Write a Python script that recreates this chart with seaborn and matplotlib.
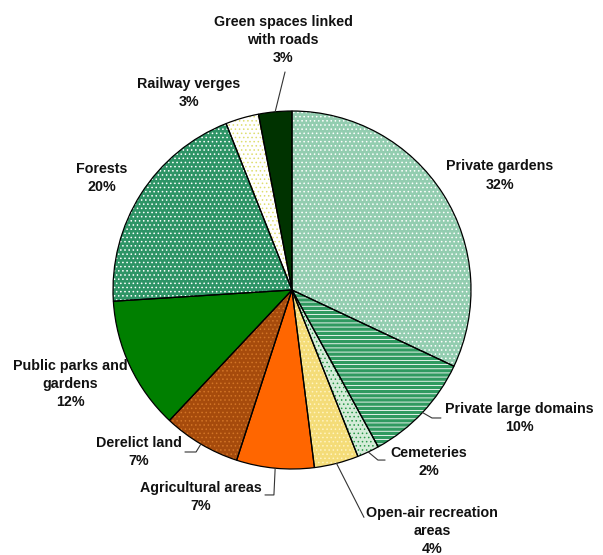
import numpy as np
import matplotlib
matplotlib.use("Agg")
import matplotlib.pyplot as plt
import seaborn as sns

# ---- data ----
categories = [
    "Private gardens",
    "Private large domains",
    "Cemeteries",
    "Open-air recreation\nareas",
    "Agricultural areas",
    "Derelict land",
    "Public parks and\ngardens",
    "Forests",
    "Railway verges",
    "Green spaces linked\nwith roads",
]
shares = [32, 10, 2, 4, 7, 7, 12, 20, 3, 3]

# ---- styling ----
face_colors = ["#93cdb0", "#2f9a60", "#d5ecd9", "#f4dc78", "#ff6600",
               "#a64b0c", "#007f00", "#2e9466", "#ffffff", "#003300"]
hatch_colors = ["#ffffff", "#ffffff", "#2b9a4a", "#fff3c0", "#ff6600",
                "#d27426", "#007f00", "#ffffff", "#dede70", "#003300"]
hatches = ["....", "----", "....", "....", None, "....", None, "....", "....", None]

# label centres in pie units (radius = 1) and optional leader (elbow, end)
label_pos = [(1.162, 0.640), (1.268, -0.715), (0.765, -0.961), (0.782, -1.345),
             (-0.508, -1.156), (-0.855, -0.905), (-1.240, -0.525),
             (-1.061, 0.626), (-0.575, 1.101), (-0.050, 1.395)]
leaders = [None,
           [(0.782, -0.715), (0.832, -0.715)],
           [(0.480, -0.950), (0.520, -0.950)],
           [(0.402, -1.270)],
           [(-0.101, -1.145), (-0.151, -1.145)],
           [(-0.536, -0.905), (-0.598, -0.905)],
           None, None, None,
           [(-0.039, 1.218)]]

sns.set_theme(style="white")
plt.rcParams["font.family"] = ["Liberation Sans", "DejaVu Sans"]
plt.rcParams["hatch.linewidth"] = 0.6

fig = plt.figure(figsize=(6.03, 5.55), dpi=100)
ax = fig.add_axes([0, 0, 1, 1])

# filled + hatched layer (hatch colour follows edge colour)
wedges, _ = ax.pie(shares, startangle=90, counterclock=False, radius=1,
                   colors=face_colors, wedgeprops=dict(linewidth=0))
for w, h, hc in zip(wedges, hatches, hatch_colors):
    w.set_edgecolor(hc)
    if h:
        w.set_hatch(h)

# black outlines on top
ax.pie(shares, startangle=90, counterclock=False, radius=1,
       colors=["none"] * len(shares),
       wedgeprops=dict(linewidth=0.9, edgecolor="black", fill=False))

for w, name, val, pos, lead in zip(wedges, categories, shares, label_pos, leaders):
    ax.text(pos[0], pos[1], f"{name}\n{val}%", ha="center", va="center",
            fontsize=10.3, fontweight="bold", linespacing=1.38, color="#111111")
    if lead:
        mid = np.deg2rad((w.theta1 + w.theta2) / 2)
        xs = [np.cos(mid)] + [p[0] for p in lead]
        ys = [np.sin(mid)] + [p[1] for p in lead]
        ax.plot(xs, ys, color="#333333", linewidth=0.8)

ax.set_xlim(-292 / 179, 311 / 179)
ax.set_ylim(-265 / 179, 290 / 179)
ax.set_aspect("auto")
ax.axis("off")

fig.savefig("out.png", dpi=100)
